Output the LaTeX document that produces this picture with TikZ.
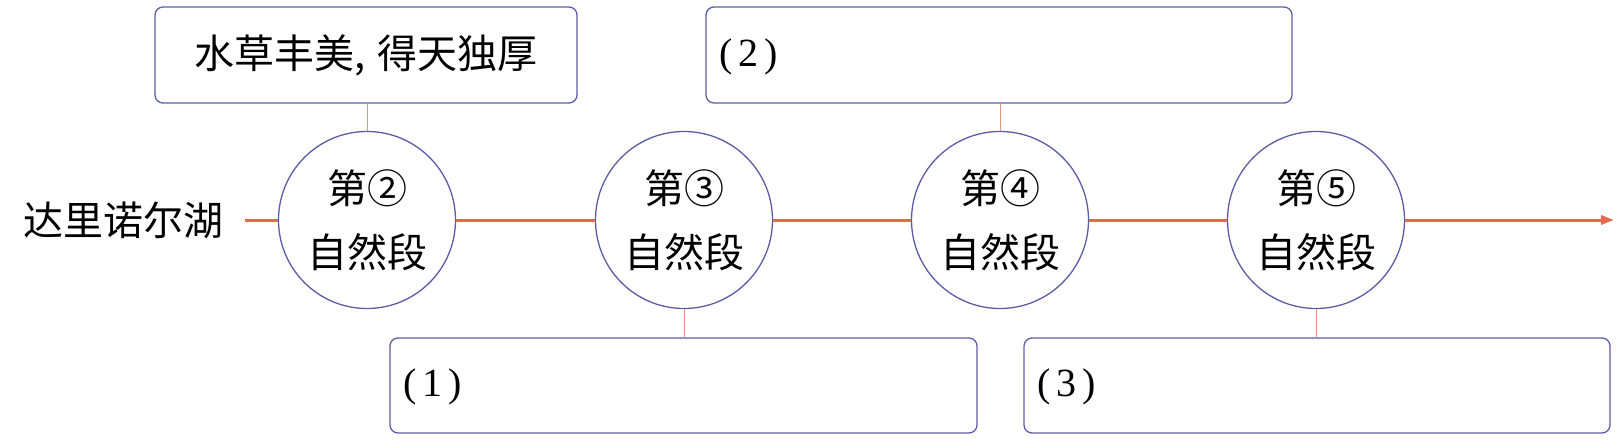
\documentclass[tikz,border=0pt]{standalone}
\usepackage{fontspec}
\setmainfont{Liberation Serif}
\newfontfamily\cjk{Noto Sans CJK SC}
\usetikzlibrary{arrows.meta}
\definecolor{frameblue}{HTML}{5C5CA8}
\definecolor{lineorange}{HTML}{E8684C}
\definecolor{thinorange}{HTML}{E89478}
\tikzset{
  stage/.style={circle, draw=frameblue, line width=1.3pt, minimum size=177pt, inner sep=0pt,
     align=center, font=\cjk\fontsize{40}{64}\selectfont},
  infobox/.style={draw=frameblue, line width=1.3pt, rounded corners=8pt, inner sep=0pt},
  mainline/.style={draw=lineorange, line width=3pt},
  tie/.style={draw=thinorange, line width=1pt},
  numlabel/.style={anchor=west, inner sep=0pt, font=\fontsize{40}{46}\selectfont},
  cjklabel/.style={inner sep=0pt, font=\cjk\fontsize{40}{48}\selectfont}
}
\newcommand{\paren}[1]{(\hspace{6pt}#1\hspace{6pt})}
\begin{document}
\begin{tikzpicture}[x=1pt, y=-1pt]
\useasboundingbox (0,0) rectangle (1624,444);
% boxes
\node[infobox, minimum width=422pt, minimum height=96pt] (ba) at (366,55) {};
\node[cjklabel] (ta) at (ba.center) {水草丰美,\kern0.28em 得天独厚};
\node[infobox, minimum width=586pt, minimum height=96pt] (bb) at (999,55) {};
\node[numlabel] (tb) at (719,57) {\paren{2}};
\node[infobox, minimum width=587pt, minimum height=95pt] (bc) at (683.5,385.5) {};
\node[numlabel] (tc) at (403,387) {\paren{1}};
\node[infobox, minimum width=586pt, minimum height=95pt] (bd) at (1317,385.5) {};
\node[numlabel] (td) at (1037,387) {\paren{3}};
% circles
\node[stage] (c2) at (367,220) {第②\\自然段};
\node[stage] (c3) at (684,220) {第③\\自然段};
\node[stage] (c4) at (1000,220) {第④\\自然段};
\node[stage] (c5) at (1316,220) {第⑤\\自然段};
% start label
\node[cjklabel, anchor=west] (start) at (23,220) {达里诺尔湖};
\coordinate (s0) at (245,220);
\coordinate (end) at (1614,220);
% main line
\draw[mainline] (s0) -- (c2.west);
\draw[mainline] (c2.east) -- (c3.west);
\draw[mainline] (c3.east) -- (c4.west);
\draw[mainline] (c4.east) -- (c5.west);
\draw[mainline, -{Triangle[length=13pt, width=9pt]}] (c5.east) -- (end);
% ties
\draw[tie] (ba.south -| c2.north) -- (c2.north);
\draw[tie] (bb.south -| c4.north) -- (c4.north);
\draw[tie] (c3.south) -- (bc.north -| c3.south);
\draw[tie] (c5.south) -- (bd.north -| c5.south);
\end{tikzpicture}
\end{document}
